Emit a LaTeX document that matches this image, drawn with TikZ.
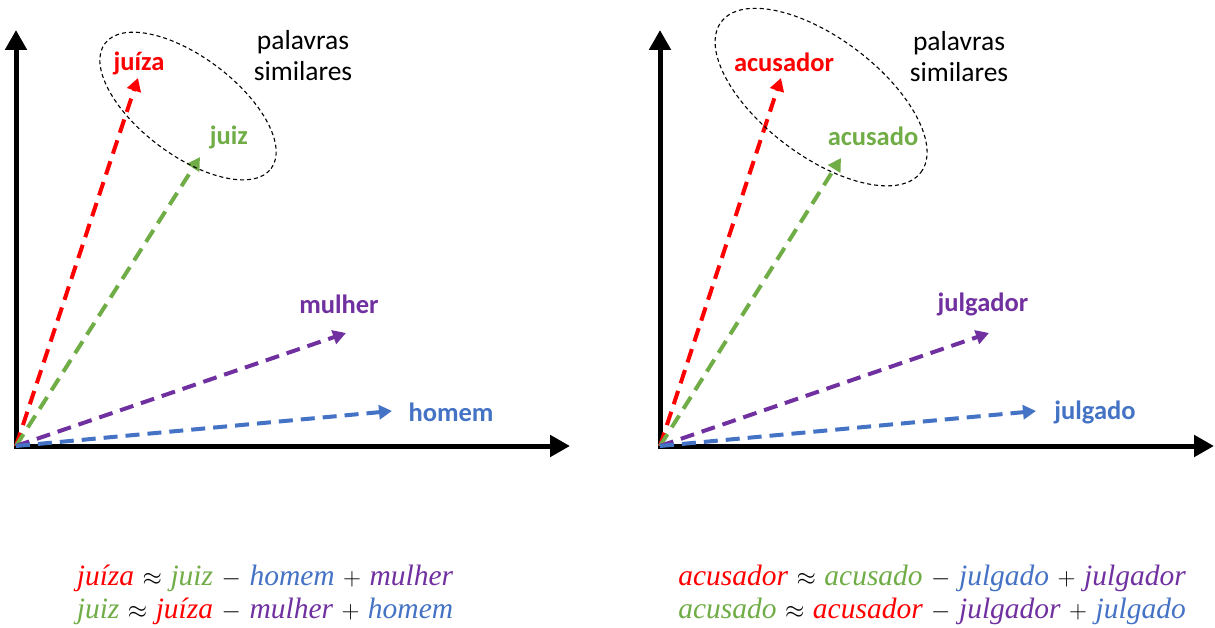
\documentclass[tikz,border=0pt]{standalone}
\usepackage{fontspec}
\setmainfont{Carlito}
\newfontfamily\eqfont{Liberation Serif}
\usetikzlibrary{arrows.meta}
\definecolor{cred}{HTML}{FF0000}
\definecolor{cgreen}{HTML}{70AD47}
\definecolor{cblue}{HTML}{4472C4}
\definecolor{cpurple}{HTML}{7030A0}
\tikzset{
  axis/.style={line width=5pt, line join=miter, {Triangle[length=20pt,width=21pt]}-{Triangle[length=20pt,width=21pt]}},
  vec/.style={line width=4pt, dash pattern=on 14pt off 8pt, -{Triangle[length=13pt,width=14pt]}},
  lbl/.style={font=\fontsize{26.5}{28}\selectfont\bfseries, inner sep=0pt},
  note/.style={font=\fontsize{27.5}{31}\selectfont, align=center, inner sep=0pt},
  group/.style={black, line width=1.1pt, dash pattern=on 4pt off 3pt},
  eq/.style={font=\fontsize{29.5}{33}\selectfont\eqfont, align=center, inner sep=0pt},
}
\newcommand{\eqw}[2]{\textcolor{#1}{\itshape #2}}
\newcommand{\eqop}[1]{\hspace{8.5pt}$#1$\hspace{8.5pt}}
\begin{document}
\begin{tikzpicture}[x=1pt,y=-1pt]
\useasboundingbox (0,0) rectangle (1215,628);
% ---------- left panel ----------
\coordinate (oL) at (16,446);
\coordinate (yL) at (16,30);
\coordinate (xL) at (570,446);
\draw[axis] (yL) -- (oL) -- (xL);
\coordinate (tJuiza) at (138,78);
\coordinate (tJuiz) at (200,157);
\coordinate (tMulher) at (346,333);
\coordinate (tHomem) at (392,411);
\draw[vec, cred] (oL) -- (tJuiza);
\draw[vec, cgreen] (oL) -- (tJuiz);
\draw[vec, cpurple] (oL) -- (tMulher);
\draw[vec, cblue] (oL) -- (tHomem);
\node[lbl, text=cred] (lJuiza) at (139,63) {juíza};
\node[lbl, text=cgreen] (lJuiz) at (229,137) {juiz};
\node[lbl, text=cpurple] (lMulher) at (339,304) {mulher};
\node[lbl, text=cblue] (lHomem) at (451,412) {homem};
\coordinate (eL) at (188,106);
\draw[group, rotate around={-37:(eL)}] (eL) ellipse [x radius=104pt, y radius=49pt];
\node[note] (sL) at (303,56) {palavras\\similares};
\node[eq] (eqL) at (265,595) {\eqw{cred}{juíza}\eqop{\approx}\eqw{cgreen}{juiz}\eqop{-}\eqw{cblue}{homem}\eqop{+}\eqw{cpurple}{mulher}\\
\eqw{cgreen}{juiz}\eqop{\approx}\eqw{cred}{juíza}\eqop{-}\eqw{cpurple}{mulher}\eqop{+}\eqw{cblue}{homem}};
% ---------- right panel ----------
\coordinate (oR) at (660,446);
\coordinate (yR) at (660,30);
\coordinate (xR) at (1214,446);
\draw[axis] (yR) -- (oR) -- (xR);
\coordinate (tAcusador) at (781,78);
\coordinate (tAcusado) at (841,158);
\coordinate (tJulgador) at (989,333);
\coordinate (tJulgado) at (1036,411);
\draw[vec, cred] (oR) -- (tAcusador);
\draw[vec, cgreen] (oR) -- (tAcusado);
\draw[vec, cpurple] (oR) -- (tJulgador);
\draw[vec, cblue] (oR) -- (tJulgado);
\node[lbl, text=cred] (lAcusador) at (784,62) {acusador};
\node[lbl, text=cgreen] (lAcusado) at (873,136) {acusado};
\node[lbl, text=cpurple] (lJulgador) at (983,304) {julgador};
\node[lbl, text=cblue] (lJulgado) at (1095,412) {julgado};
\coordinate (eR) at (821,97);
\draw[group, rotate around={-37:(eR)}] (eR) ellipse [x radius=125pt, y radius=59pt];
\node[note] (sR) at (959,57) {palavras\\similares};
\node[eq] (eqR) at (932,595) {\eqw{cred}{acusador}\eqop{\approx}\eqw{cgreen}{acusado}\eqop{-}\eqw{cblue}{julgado}\eqop{+}\eqw{cpurple}{julgador}\\
\eqw{cgreen}{acusado}\eqop{\approx}\eqw{cred}{acusador}\eqop{-}\eqw{cpurple}{julgador}\eqop{+}\eqw{cblue}{julgado}};
\end{tikzpicture}
\end{document}
